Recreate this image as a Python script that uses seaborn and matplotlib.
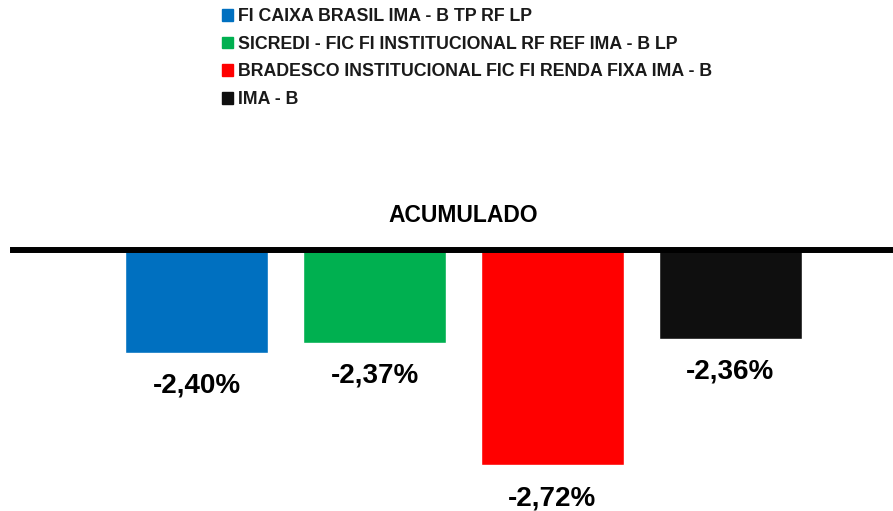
import matplotlib
matplotlib.use("Agg")
import matplotlib.pyplot as plt
import seaborn as sns
import pandas as pd

# dados do gráfico
fundos = ["FI CAIXA BRASIL IMA - B TP RF LP",
          "SICREDI - FIC FI INSTITUCIONAL RF REF IMA - B LP",
          "BRADESCO INSTITUCIONAL FIC FI RENDA FIXA IMA - B",
          "IMA - B"]
acumulado = [-2.40, -2.37, -2.72, -2.36]
cores = ["#0070C0", "#00B050", "#FF0000", "#0F0F0F"]

df = pd.DataFrame({"Fundo": fundos, "Acumulado": acumulado})

sns.set_theme(style="white")
plt.rcParams['font.family'] = ['Liberation Sans', 'DejaVu Sans']

fig = plt.figure(figsize=(8.93, 5.11), dpi=100)
ax = fig.add_axes([13 / 893, 0, 880 / 893, 261 / 511])

sns.barplot(data=df, x="Fundo", y="Acumulado", hue="Fundo", palette=cores,
            width=0.8, saturation=1, legend=False, ax=ax)

ax.set_ylim(-2.85, -2.106)
ax.set_xlim(-1.031, 3.913)
for lado in ["left", "right", "bottom"]:
    ax.spines[lado].set_visible(False)
ax.spines["top"].set_visible(True)
ax.spines["top"].set_color("black")
ax.spines["top"].set_linewidth(4.3)
ax.set_xticks([])
ax.set_yticks([])
ax.set_xlabel("")
ax.set_ylabel("")

# rótulos de valor
for i, v in enumerate(acumulado):
    txt = f"{v:.2f}".replace(".", ",") + "%"
    ax.annotate(txt, xy=(i, v), xytext=(0, -23.5), textcoords="offset points",
                ha="center", va="center", fontsize=20, fontweight="bold",
                color="black", annotation_clip=False)

fig.text(463 / 893, 1 - 215 / 511, "ACUMULADO", ha="center", va="center",
         fontsize=16.5, fontweight="bold", color="black")

# legenda
handles = [plt.Rectangle((0, 0), 1, 1, color=c) for c in cores]
leg = fig.legend(handles, fundos, loc="upper left",
                 bbox_to_anchor=(222 / 893, 1 - 8 / 511), frameon=False,
                 handlelength=0.62, handleheight=0.62, handletextpad=0.28,
                 labelspacing=0.6, borderaxespad=0, borderpad=0,
                 prop={"size": 12.8, "weight": "bold"})
for t in leg.get_texts():
    t.set_color("#1a1a1a")

fig.savefig("out.png", dpi=100)
